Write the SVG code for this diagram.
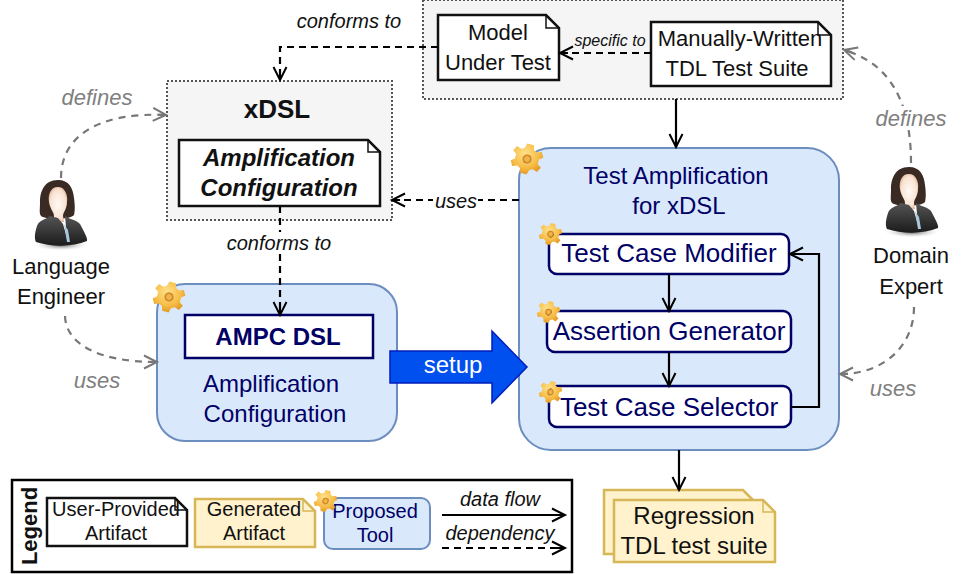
<svg xmlns="http://www.w3.org/2000/svg" width="964" height="574" viewBox="0 0 964 574">
<style>
text{font-family:"Liberation Sans",Arial,sans-serif;text-anchor:middle;fill:#111}
.navy{fill:#000066}
.i{font-style:italic}
.b{font-weight:bold}
.g{fill:#808080;font-style:italic;font-size:22px}
.s22{font-size:22px}.s20{font-size:20px}.s24{font-size:24px}.s26{font-size:26px}
.tool{fill:#dae8fc;stroke:#6c8ebf;stroke-width:2}
.inner{fill:#fff;stroke:#000066;stroke-width:2.5}
.group{fill:#f5f5f5;stroke:#555;stroke-width:2;stroke-dasharray:2 2}
.doc{fill:#fff;stroke:#111;stroke-width:2.5;stroke-linejoin:miter}
.gen{fill:#fff2cc;stroke:#d6b656;stroke-width:2.5}
.flow,.dep,.gdep{fill:none;stroke-width:2.2}
.flow{stroke:#000;marker-end:url(#ab)}
.dep{stroke:#000;stroke-dasharray:7 5;marker-end:url(#ab)}
.gdep{stroke:#777;stroke-dasharray:7 6;marker-end:url(#ag)}
</style>
<defs>
<marker id="ab" markerUnits="userSpaceOnUse" markerWidth="16" markerHeight="16" refX="14" refY="8" orient="auto" overflow="visible"><path d="M1 1.5 L14 8 L1 14.5 M6 8 H14" fill="none" stroke="#000" stroke-width="2"/></marker>
<marker id="ag" markerUnits="userSpaceOnUse" markerWidth="16" markerHeight="16" refX="14" refY="8" orient="auto" overflow="visible"><path d="M1 1.5 L14 8 L1 14.5 M6 8 H14" fill="none" stroke="#777" stroke-width="2"/></marker>
<radialGradient id="gearG" cx="0.4" cy="0.35" r="0.75"><stop offset="0" stop-color="#ffe28a"/><stop offset="0.6" stop-color="#f6bc45"/><stop offset="1" stop-color="#dd8f1c"/></radialGradient>
<radialGradient id="faceG" cx="0.5" cy="0.5" r="0.6"><stop offset="0" stop-color="#fffaf6"/><stop offset="0.7" stop-color="#f9e2d2"/><stop offset="1" stop-color="#d9a888"/></radialGradient>
<linearGradient id="jacketG" x1="0" y1="0" x2="0" y2="1"><stop offset="0" stop-color="#555"/><stop offset="1" stop-color="#1b1b1b"/></linearGradient>
<radialGradient id="shadowG"><stop offset="0" stop-color="#555"/><stop offset="1" stop-color="#fff" stop-opacity="0"/></radialGradient>
<symbol id="gear" viewBox="-17 -17 34 34" overflow="visible">
<g transform="rotate(14)">
<path fill="url(#gearG)" fill-rule="evenodd" d="M-3.5 -16 L3.5 -16 L5 -11 L8.5 -9.2 L13.5 -11 L16.5 -5.5 L12.5 -2.5 L12.5 2.5 L16.5 5.5 L13.5 11 L8.5 9.2 L5 11 L3.5 16 L-3.5 16 L-5 11 L-8.5 9.2 L-13.5 11 L-16.5 5.5 L-12.5 2.5 L-12.5 -2.5 L-16.5 -5.5 L-13.5 -11 L-8.5 -9.2 L-5 -11 Z M5 0 A5 5 0 1 0 -5 0 A5 5 0 1 0 5 0 Z"/>
<circle r="5" fill="#d78a1e"/>
<circle r="3" fill="#efb44a"/>
</g>
</symbol>
<symbol id="person" viewBox="0 0 56 72" overflow="visible">
<ellipse cx="28" cy="65" rx="29" ry="6" fill="url(#shadowG)"/>
<path d="M25 0 C11 0 7 12 7 22 C7 30 6 33 8 36 C14 40 36 40 41 35 C42 30 42 26 41 18 C40 8 36 0 25 0 Z" fill="#3a2a24"/>
<path d="M25 7 C17 7 15 15 16 22 C17 29 21 32 21 36 L20 42 L31 42 L30 36 C30 32 34 29 34 22 C35 15 32 7 25 7 Z" fill="url(#faceG)"/>
<path d="M17 36 C12 40 6 40 4 46 C2 52 1 58 3 62 C18 67 40 67 54 61 C55 58 50 50 47 44 C44 40 38 40 32 36 L34 58 L30 44 L25 38 Z" fill="url(#jacketG)"/>
<path d="M31 44 L35 50 L37 62 L34 62 Z" fill="#a9c8de"/>
</symbol>
</defs>
<rect width="964" height="574" fill="#fff"/>

<g id="group-mut"><rect class="group" x="423" y="0" width="420" height="99"/></g>
<g id="node-xdsl"><rect class="group" x="167" y="81" width="225" height="139"/>
<text class="b s26" x="277" y="118">xDSL</text></g>

<g id="node-mut"><path class="doc" d="M438 15 H546 L559 28 V80 H438 Z"/><path d="M546 15 V28 H559" fill="none" stroke="#111" stroke-width="1.5"/>
<text class="s22" x="498" y="40">Model</text><text class="s22" x="498" y="70">Under Test</text></g>
<g id="node-manual"><path class="doc" d="M651 22 H818 L831 35 V86 H651 Z"/><path d="M818 22 V35 H831" fill="none" stroke="#111" stroke-width="1.5"/>
<text class="s22" x="740" y="46">Manually-Written</text><text class="s22" x="737" y="76">TDL Test Suite</text></g>
<g id="node-ampconf"><path class="doc" d="M179 140 H368 L380 152 V206 H179 Z"/><path d="M368 140 V152 H380" fill="none" stroke="#111" stroke-width="1.5"/>
<text class="b i s24" x="279" y="166">Amplification</text><text class="b i s24" x="279" y="196">Configuration</text></g>

<g id="node-test-amp"><rect class="tool" x="519" y="148" width="320" height="302" rx="32"/>
<text class="navy s24" x="676" y="184">Test Amplification</text><text class="navy s24" x="679" y="214">for xDSL</text>
<use href="#gear" x="511" y="142" width="32" height="34"/></g>
<g id="node-modifier"><rect class="inner" x="549" y="234" width="240" height="40" rx="8"/><text class="navy s26" x="669" y="262">Test Case Modifier</text>
<use href="#gear" x="539" y="222" width="23" height="24"/></g>
<g id="node-assertion"><rect class="inner" x="547" y="311" width="244" height="41" rx="8"/><text class="navy s26" x="669" y="340">Assertion Generator</text>
<use href="#gear" x="537" y="300" width="23" height="24"/></g>
<g id="node-selector"><rect class="inner" x="549" y="386" width="242" height="41" rx="8"/><text class="navy s26" x="669" y="416">Test Case Selector</text>
<use href="#gear" x="539" y="380" width="23" height="24"/></g>

<g id="node-ampc"><rect class="tool" x="157" y="284" width="240" height="157" rx="28"/>
<rect class="inner" x="185" y="315" width="188" height="43"/>
<text class="navy b s24" x="278" y="345">AMPC DSL</text>
<text class="navy s24" x="271" y="392">Amplification</text><text class="navy s24" x="275" y="422">Configuration</text>
<use href="#gear" x="153" y="280" width="32" height="34"/></g>

<g id="node-setup"><path d="M390 351 H492 V331 L527 367 L492 403 V383 H390 Z" fill="#0050ef" stroke="#001dbc" stroke-width="1.5"/>
<text class="s24" x="453" y="373" style="fill:#fff">setup</text></g>

<g id="node-language-engineer"><use href="#person" x="33" y="180" width="56" height="72"/>
<text class="s22" x="61" y="274">Language</text><text class="s22" x="61" y="304">Engineer</text></g>
<g id="node-domain-expert"><use href="#person" x="884" y="167" width="56" height="72"/>
<text class="s22" x="911" y="263">Domain</text><text class="s22" x="911" y="294">Expert</text></g>

<g id="node-regression"><path class="gen" d="M604 490 H743 L753 500 V554 H604 Z"/><path class="gen" d="M614 500 H763 L775 512 V562 H614 Z"/><path d="M763 500 V512 H775" fill="none" stroke="#d6b656" stroke-width="1.5"/>
<text class="s24" x="694" y="524">Regression</text><text class="s24" x="694" y="554">TDL test suite</text></g>

<g id="connectors">
<path class="dep" d="M438 47 H280 V80"/>
<path class="dep" d="M651 53 H560"/>
<path class="flow" d="M676 99 V147"/>
<path class="dep" d="M519 200 H392"/>
<path class="dep" d="M280 206 V315"/>
<path class="flow" d="M669 274 V311"/>
<path class="flow" d="M669 352 V386"/>
<path class="flow" d="M791 407 H819 V254 H790"/>
<path class="flow" d="M679 450 V490"/>
<path class="gdep" d="M61 178 C61 135 100 112 166 115"/>
<path class="gdep" d="M65 316 C66 345 100 362 157 362"/>
<path class="gdep" d="M911 163 C911 95 885 62 844 50"/>
<path class="gdep" d="M914 307 C914 345 885 374 840 374"/>
</g>

<g id="labels">
<text class="i s20" x="349" y="28">conforms to</text>
<rect x="226" y="232" width="106" height="22" fill="#fff"/>
<text class="i s20" x="279" y="250">conforms to</text>
<text class="i" font-size="16" x="610" y="46">specific to</text>
<rect x="433" y="192" width="45" height="18" fill="#fff"/>
<text class="i s20" x="456" y="208">uses</text>
<text class="g" x="97" y="105">defines</text>
<text class="g" x="97" y="388">uses</text>
<rect x="872" y="106" width="78" height="24" fill="#fff"/>
<text class="g" x="911" y="126">defines</text>
<text class="g" x="893" y="396">uses</text>
</g>

<g id="legend"><rect x="12" y="480" width="560" height="92" fill="#fff" stroke="#000" stroke-width="2.5"/>
<text class="b s22" transform="translate(37 526) rotate(-90)">Legend</text>
<path class="doc" d="M47 498 H175 L187 510 V546 H47 Z"/><path d="M175 498 V510 H187" fill="none" stroke="#111" stroke-width="1.5"/>
<text class="s20" x="116" y="516">User-Provided</text><text class="s20" x="116" y="540">Artifact</text>
<path class="gen" d="M195 499 H303 L315 511 V547 H195 Z"/><path d="M303 499 V511 H315" fill="none" stroke="#d6b656" stroke-width="1.5"/>
<text class="s20" x="254" y="516">Generated</text><text class="s20" x="254" y="540">Artifact</text>
<rect class="tool" x="324" y="498" width="106" height="51" rx="9"/>
<text class="navy s20" x="375" y="518">Proposed</text><text class="navy s20" x="375" y="542">Tool</text>
<use href="#gear" x="314" y="489" width="23" height="24"/>
<path class="flow" d="M442 515 H565"/>
<text class="i s20" x="500" y="506">data flow</text>
<path class="dep" d="M442 548 H565"/>
<text class="i s20" x="500" y="540">dependency</text></g>
</svg>
